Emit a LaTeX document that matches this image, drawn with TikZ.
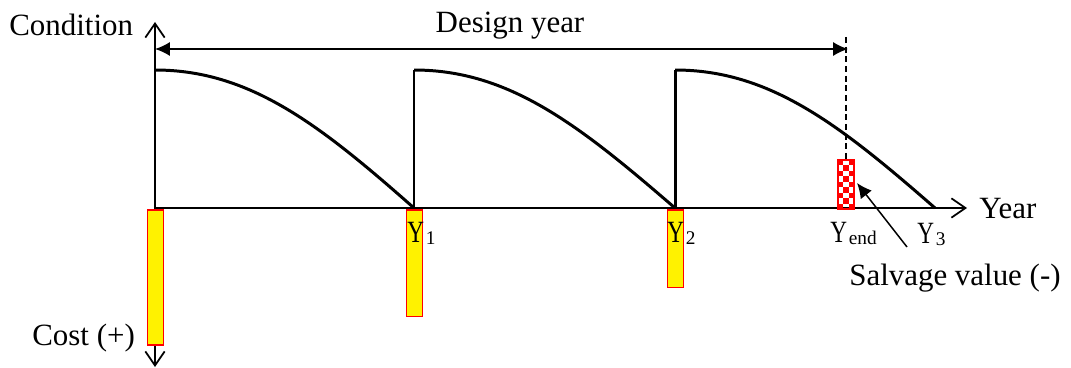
\documentclass[tikz,border=0pt]{standalone}
\usepackage{fontspec}
\setmainfont{Liberation Serif}
\usepackage{graphicx}
\usetikzlibrary{arrows.meta,calc}

% Y label with a small lowered index
\newcommand{\yrlab}[1]{\scalebox{0.75}[1]{Y}\hspace{1pt}\raisebox{-1.7pt}{\fontsize{11}{12}\selectfont #1}}

\begin{document}
\begin{tikzpicture}[x=0.02cm, y=-0.02cm,
  axis/.style={line width=1pt},
  curve/.style={line width=1.7pt},
  costbar/.style={draw=red, fill=yellow, line width=0.8pt},
  lbl/.style={font=\fontsize{17.6}{20}\selectfont, inner sep=0pt}]
\useasboundingbox (0,0) rectangle (1071,368);
% axes
\coordinate (O) at (155,208);
\coordinate (ytop) at (155,22);
\coordinate (ybot) at (155,367);
\coordinate (xtip) at (967,208);
\draw[axis, {Straight Barb[length=8pt,width=11pt]}-{Straight Barb[length=8pt,width=11pt]}] (ybot) -- (ytop);
\draw[axis, -{Straight Barb[length=8pt,width=11pt]}] (O) -- (xtip);
% cost bars below the axis
\foreach \xl/\xr/\yb in {147.7/163.3/345, 406.7/422.7/316.7, 667.3/683.3/287.7} {
    \filldraw[costbar] (\xl,210) rectangle (\xr,\yb);
}
% condition curves, renewed at Y1 and Y2
\foreach \xa/\xb in {155/414, 414/675, 675/935} {
    \draw[curve] (\xa,70) .. controls (\xa+95,70) and (\xa+165,125) .. (\xb,208);
}
\foreach \xa in {414,675} {
    \draw[curve] (\xa,208) -- (\xa,70);
}
% design year span
\coordinate (dstart) at (155,49);
\coordinate (dend) at (848,49);
\draw[line width=0.85pt, {Latex[length=8.5pt,width=8pt]}-{Latex[length=8.5pt,width=8pt]}] (dstart) -- (dend);
\coordinate (dtop) at (846,37);
\coordinate (dbot) at (846,160);
\draw[line width=0.8pt, dash pattern=on 3.5pt off 2pt] (dtop) -- (dbot);
% salvage value bar (checkered)
\foreach \j in {0,...,8} {
  \foreach \i in {0,1,2} {
    \pgfmathtruncatemacro\k{mod(\i+\j,2)}
    \ifnum\k=0
      \fill[red] (838+\i*5.33,160+\j*5.44) rectangle ++(5.33,5.44);
    \fi
  }
}
\draw[red, line width=0.8pt] (838,160) rectangle (854,209);
\coordinate (stip) at (857,183);
\coordinate (stail) at (907,247);
\draw[line width=0.85pt, -{Latex[length=8.5pt,width=8pt]}] (stail) -- (stip);
% labels
\node[lbl, anchor=base west] (cond) at (9,36) {Condition};
\node[lbl, anchor=base] (dyear) at (510,33) {Design year};
\node[lbl, anchor=base west] (year) at (979,218) {Year};
\node[lbl, anchor=base west] (cost) at (32,345) {Cost (+)};
\node[lbl, anchor=base west] (salv) at (849,285) {Salvage value (-)};
\node[lbl, anchor=base west] (y1) at (407,242) {\yrlab{1}};
\node[lbl, anchor=base west] (y2) at (667,242) {\yrlab{2}};
\node[lbl, anchor=base west] (yend) at (830,242) {\yrlab{end}};
\node[lbl, anchor=base west] (y3) at (917,243) {\yrlab{3}};
\end{tikzpicture}
\end{document}
